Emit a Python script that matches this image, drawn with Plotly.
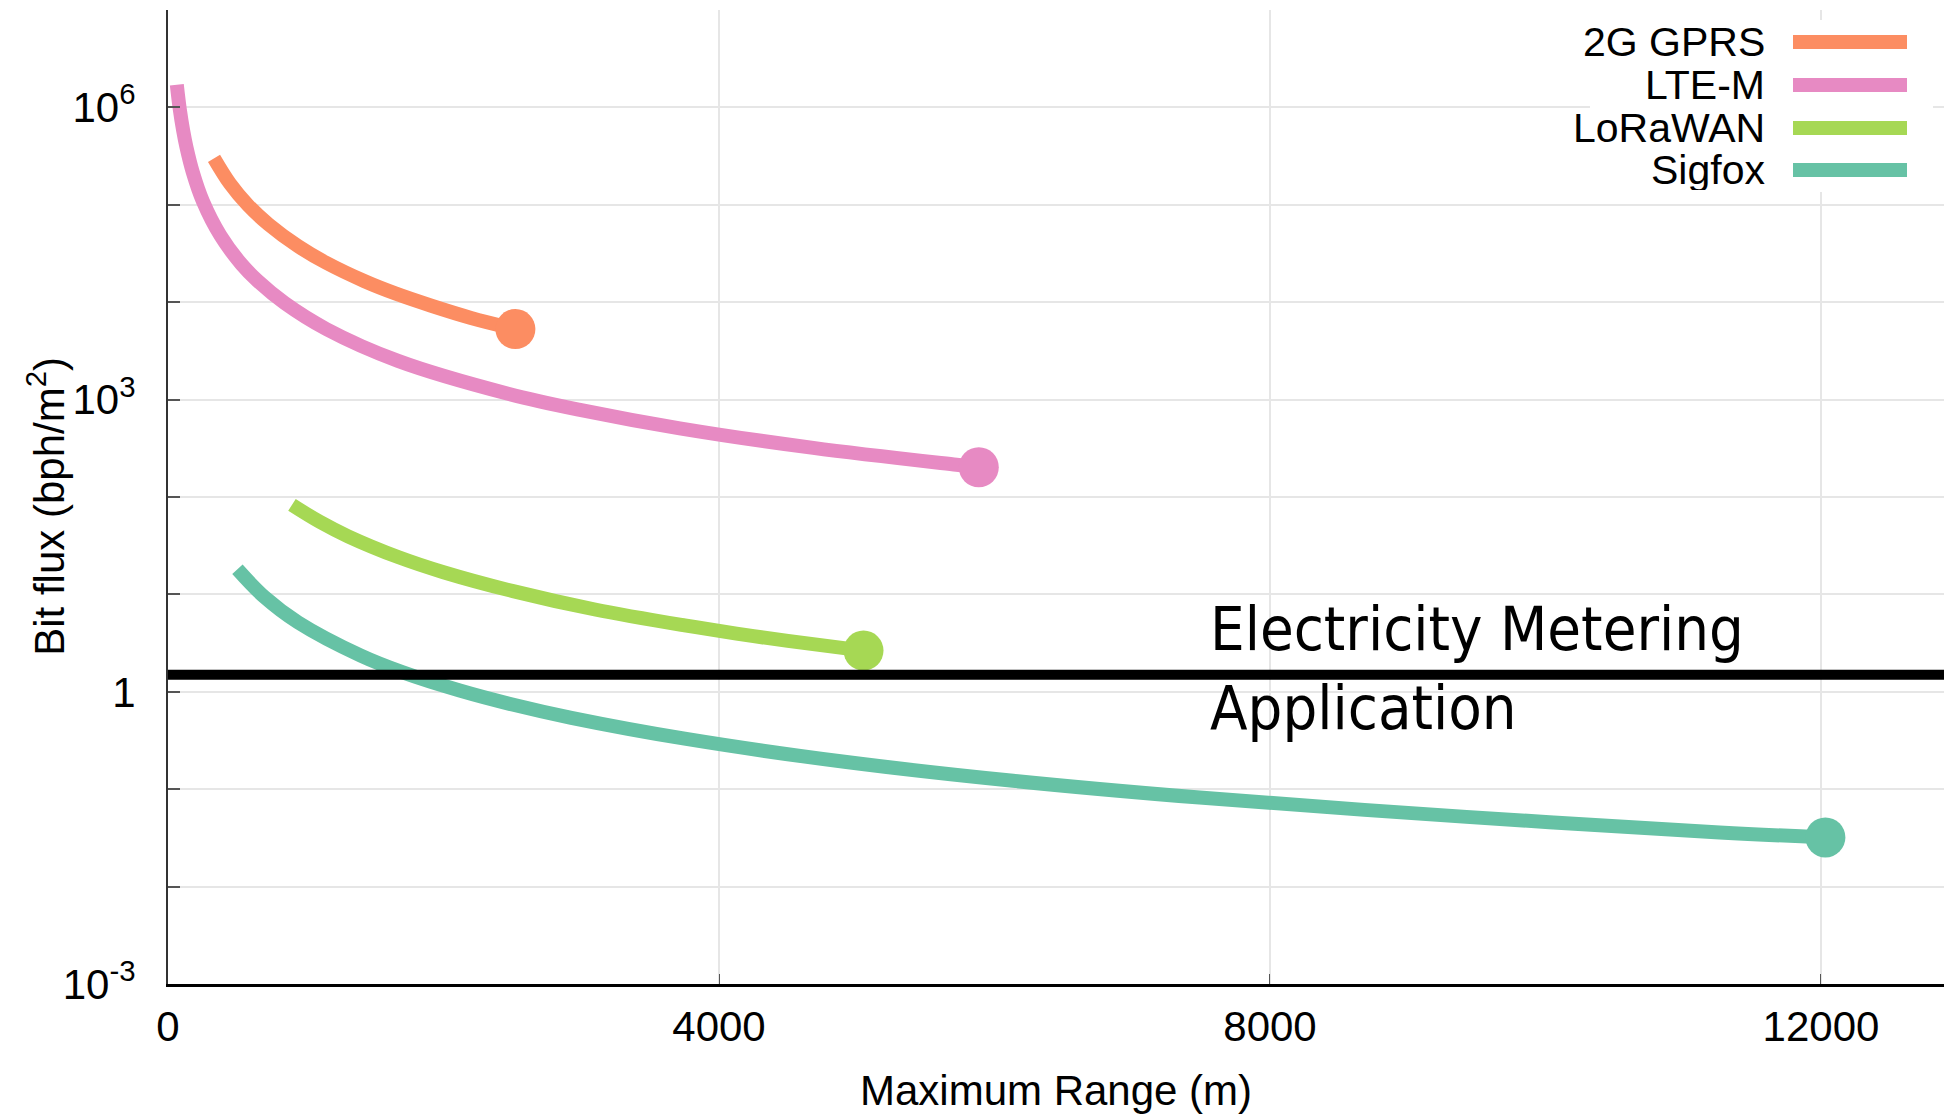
import plotly.graph_objects as go

# ---------------- data ----------------
series_names = ["2G GPRS", "LTE-M", "LoRaWAN", "Sigfox"]
series_colors = ["#FC8D62", "#E78AC3", "#A6D854", "#66C2A5"]

gprs_x = [334, 450, 581, 730, 944, 1150, 1428, 1650, 1912, 2200, 2522]
gprs_y = [3.0e5, 1.65e5, 9.9e4, 6.3e4, 3.76e4, 2.53e4, 1.64e4, 1.23e4, 9.2e3, 6.9e3, 5.3e3]

ltem_x = [64, 85, 110, 134, 180, 254, 380, 533, 650, 847, 1150, 1670, 2469, 3000, 3715, 4684, 5724, 5886]
ltem_y = [1.71e6, 9.7e5, 5.8e5, 3.9e5, 2.16e5, 1.08e5, 4.85e4, 2.46e4, 1.66e4, 9.8e3, 5.3e3,
          2.5e3, 1.15e3, 780, 507, 319, 214, 202]

lora_x = [900, 1100, 1307, 1670, 2000, 2505, 3100, 3751, 4127, 4500, 5049]
lora_y = [83, 55.8, 39.5, 24.2, 16.9, 10.8, 7.0, 4.8, 3.96, 3.33, 2.65]

sigfox_x = [504, 700, 944, 1400, 1700, 2118, 2500, 2928, 3751, 4925, 6134, 7489, 9426, 11264, 12032]
sigfox_y = [18.1, 9.4, 5.16, 2.35, 1.59, 1.03, 0.74, 0.54, 0.33, 0.19, 0.122, 0.082, 0.052, 0.036, 0.032]

threshold_value = 1.5
threshold_label = "Electricity Metering<br>Application"
threshold_label_x = 7548

x_tick_vals = [0, 4000, 8000, 12000]
x_tick_text = ["0", "4000", "8000", "12000"]
y_tick_vals = [1e-3, 1e-2, 1e-1, 1, 1e1, 1e2, 1e3, 1e4, 1e5, 1e6, 1e7]
y_tick_text = ["10<sup>-3</sup>", " ", " ", "1", " ", " ", "10<sup>3</sup>", " ", " ", "10<sup>6</sup>", " "]

x_title = "Maximum Range (m)"
y_title = "Bit flux (bph/m<sup>2</sup>)"

xs = [gprs_x, ltem_x, lora_x, sigfox_x]
ys = [gprs_y, ltem_y, lora_y, sigfox_y]

# ---------------- figure ----------------
W, H = 1944, 1116
ML, MR, MT, MB = 168, 0, 10, 132
PW, PH = W - ML - MR, H - MT - MB

FONT = "Liberation Sans, Arial, sans-serif"

fig = go.Figure()

for name, col, x, y in zip(series_names, series_colors, xs, ys):
    fig.add_trace(go.Scatter(
        x=x, y=y, mode="lines", name=name,
        line=dict(color=col, width=14, shape="spline", smoothing=1.0),
        showlegend=False, hoverinfo="skip"))
for name, col, x, y in zip(series_names, series_colors, xs, ys):
    fig.add_trace(go.Scatter(
        x=[x[-1]], y=[y[-1]], mode="markers", name=name,
        marker=dict(color=col, size=40, line=dict(width=0)),
        showlegend=False, hoverinfo="skip"))

# threshold line
fig.add_shape(type="line", xref="paper", x0=0, x1=1, yref="y",
              y0=threshold_value, y1=threshold_value,
              line=dict(color="black", width=10), layer="above")

fig.add_annotation(x=threshold_label_x, xref="x", xanchor="left",
                   y=1 - (668 - MT) / PH, yref="paper", yanchor="middle",
                   text=threshold_label, showarrow=False, align="left",
                   font=dict(family="DejaVu Sans Condensed, Tahoma, DejaVu Sans, sans-serif",
                             size=61, color="black"))

# axis titles as annotations for precise placement
fig.add_annotation(x=0.5, xref="paper", xanchor="center",
                   y=0, yref="paper", yanchor="middle", yshift=-(1090 - (MT + PH)),
                   text=x_title, showarrow=False,
                   font=dict(family=FONT, size=42, color="black"))
fig.add_annotation(x=0, xref="paper", xanchor="center", xshift=-(ML - 46),
                   y=0.49, yref="paper", yanchor="middle",
                   text=y_title, showarrow=False, textangle=-90,
                   font=dict(family=FONT, size=42, color="black"))

# custom legend (text on the left, line sample on the right)
def px2paper_x(px):
    return (px - ML) / PW

def px2paper_y(py):
    return 1 - (py - MT) / PH

fig.add_shape(type="rect", xref="paper", yref="paper",
              x0=px2paper_x(1590), x1=px2paper_x(1933),
              y0=px2paper_y(192), y1=px2paper_y(20),
              fillcolor="white", line=dict(width=0), layer="above")
row_y = [42, 85, 128, 170]
for name, col, ry in zip(series_names, series_colors, row_y):
    fig.add_shape(type="line", xref="paper", yref="paper",
                  x0=px2paper_x(1793), x1=px2paper_x(1907),
                  y0=px2paper_y(ry), y1=px2paper_y(ry),
                  line=dict(color=col, width=14), layer="above")
    fig.add_annotation(x=px2paper_x(1766), xref="paper", xanchor="right",
                       y=px2paper_y(ry), yref="paper", yanchor="middle",
                       text=name, showarrow=False, height=40, borderpad=0,
                       font=dict(family=FONT, size=41, color="black"))

fig.update_layout(
    width=W, height=H,
    margin=dict(l=ML, r=MR, t=MT, b=MB, pad=0),
    paper_bgcolor="white", plot_bgcolor="white",
    font=dict(family=FONT, size=42, color="black"),
    xaxis=dict(range=[0, 12893], tickmode="array", tickvals=x_tick_vals, ticktext=x_tick_text,
               showgrid=True, gridcolor="#e6e6e6", gridwidth=2,
               showline=True, linecolor="black", linewidth=3,
               ticks="inside", ticklen=10, tickwidth=1, tickcolor="#555",
               tickfont=dict(family=FONT, size=42, color="black"),
               ticklabelstandoff=4, zeroline=False, automargin=False),
    yaxis=dict(type="log", range=[-3, 7], tickmode="array", tickvals=y_tick_vals, ticktext=y_tick_text,
               showgrid=True, gridcolor="#e6e6e6", gridwidth=2,
               showline=True, linecolor="#333", linewidth=2,
               ticks="inside", ticklen=12, tickwidth=2, tickcolor="#555",
               tickfont=dict(family=FONT, size=42, color="black"),
               ticklabelstandoff=22, zeroline=False, automargin=False),
)

fig.write_html(
    "out.html",
    config={"displayModeBar": False},
    post_script="document.body.style.margin='0';document.body.style.overflow='hidden';",
)
